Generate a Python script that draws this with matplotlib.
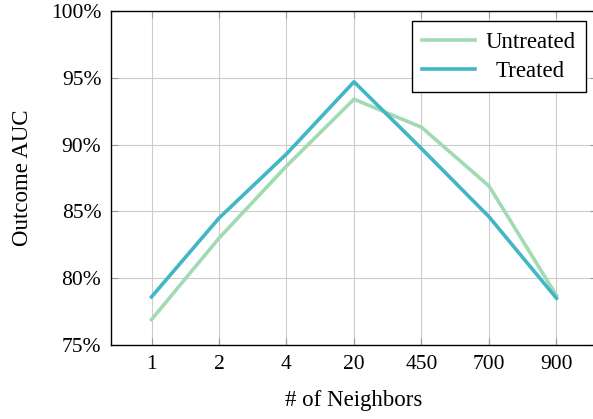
import matplotlib.pyplot as plt
from matplotlib.ticker import FuncFormatter

plt.rcParams['font.family'] = ['Liberation Serif', 'DejaVu Serif']

neighbors = ['1', '2', '4', '20', '450', '700', '900']
untreated = [76.9, 83.0, 88.4, 93.4, 91.3, 86.9, 78.7]
treated = [78.6, 84.5, 89.3, 94.7, 89.7, 84.6, 78.5]

fig = plt.figure(figsize=(5.93, 4.19), dpi=100)
ax = fig.add_axes([0.1872, 0.1766, 0.8195, 0.7971])

x = list(range(len(neighbors)))
ax.plot(x, untreated, color='#a1dab4', lw=2.6, label='Untreated')
ax.plot(x, treated, color='#41b6c4', lw=2.6, label='Treated')

ax.set_xlim(-0.6, 6.6)
ax.set_ylim(75, 100)
ax.set_xticks(x)
ax.set_xticklabels(neighbors)
ax.set_yticks([75, 80, 85, 90, 95, 100])
ax.yaxis.set_major_formatter(FuncFormatter(lambda v, p: '%d%%' % v))
ax.grid(True, color='#cccccc', lw=0.8)
ax.tick_params(direction='in', length=5, color='#999999', top=True, right=True,
               labelsize=15.5, pad=7)
for s in ax.spines.values():
    s.set_linewidth(1.0)

ax.set_xlabel('# of Neighbors', fontsize=16.5, labelpad=12)
ax.set_ylabel('Outcome AUC', fontsize=16.5, labelpad=13)

leg = ax.legend(loc='upper right', fontsize=16.5, fancybox=False, framealpha=1,
                edgecolor='black', handlelength=2.3, handletextpad=0.45,
                borderpad=0.45, labelspacing=0.35, borderaxespad=0.45,
                bbox_to_anchor=(0.998, 1.0))
leg.get_frame().set_linewidth(1.0)

# centre the shorter label like pgfplots does
fig.canvas.draw()
r = fig.canvas.get_renderer()
w0 = leg.texts[0].get_window_extent(r).width
w1 = leg.texts[1].get_window_extent(r).width
leg.texts[1].set_x((w0 - w1) / 2)

fig.savefig('out.png', dpi=100)
